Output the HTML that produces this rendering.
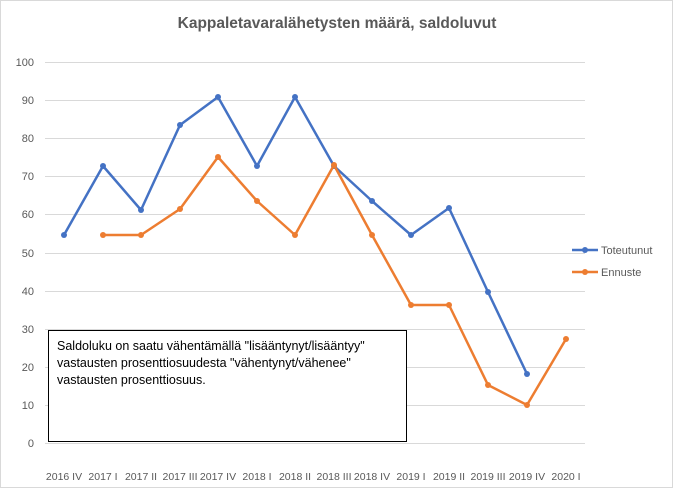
<!DOCTYPE html>
<html><head><meta charset="utf-8"><style>
body{margin:0;background:#fff}
svg{display:block;font-family:"Liberation Sans",sans-serif}
</style></head><body>
<svg width="673" height="488" viewBox="0 0 673 488">
<rect x="0.5" y="0.5" width="672" height="487" fill="#fff" stroke="#d9d9d9"/>
<text x="337" y="28" text-anchor="middle" font-size="15.5" font-weight="bold" fill="#595959">Kappaletavaralähetysten määrä, saldoluvut</text>
<g stroke="#d9d9d9" stroke-width="1">
<line x1="45" x2="585" y1="443.5" y2="443.5"/><line x1="45" x2="585" y1="405.5" y2="405.5"/>
<line x1="45" x2="585" y1="367.5" y2="367.5"/><line x1="45" x2="585" y1="329.5" y2="329.5"/>
<line x1="45" x2="585" y1="291.5" y2="291.5"/><line x1="45" x2="585" y1="253.5" y2="253.5"/>
<line x1="45" x2="585" y1="214.5" y2="214.5"/><line x1="45" x2="585" y1="176.5" y2="176.5"/>
<line x1="45" x2="585" y1="138.5" y2="138.5"/><line x1="45" x2="585" y1="100.5" y2="100.5"/>
<line x1="45" x2="585" y1="62.5" y2="62.5"/>
</g>
<g font-size="11" fill="#595959" text-anchor="end">
<text x="34" y="447">0</text><text x="34" y="409">10</text><text x="34" y="371">20</text>
<text x="34" y="333">30</text><text x="34" y="295">40</text><text x="34" y="257">50</text>
<text x="34" y="218">60</text><text x="34" y="180">70</text><text x="34" y="142">80</text>
<text x="34" y="104">90</text><text x="34" y="66">100</text>
</g>
<g font-size="10.5" fill="#595959" text-anchor="middle">
<text x="64" y="480">2016 IV</text><text x="103" y="480">2017 I</text><text x="141" y="480">2017 II</text>
<text x="180" y="480">2017 III</text><text x="218" y="480">2017 IV</text><text x="257" y="480">2018 I</text>
<text x="295" y="480">2018 II</text><text x="334" y="480">2018 III</text><text x="372" y="480">2018 IV</text>
<text x="411" y="480">2019 I</text><text x="449" y="480">2019 II</text><text x="488" y="480">2019 III</text>
<text x="527" y="480">2019 IV</text><text x="566" y="480">2020 I</text>
</g>
<polyline fill="none" stroke="#4472c4" stroke-width="2.5" stroke-linejoin="round" points="64,235 103,166 141,210 180,125 218,97 257,166 295,97 334,166 372,201 411,235 449,208 488,292 527,374"/>
<g fill="#4472c4">
<circle cx="64" cy="235" r="3"/><circle cx="103" cy="166" r="3"/><circle cx="141" cy="210" r="3"/><circle cx="180" cy="125" r="3"/><circle cx="218" cy="97" r="3"/><circle cx="257" cy="166" r="3"/><circle cx="295" cy="97" r="3"/><circle cx="334" cy="166" r="3"/><circle cx="372" cy="201" r="3"/><circle cx="411" cy="235" r="3"/><circle cx="449" cy="208" r="3"/><circle cx="488" cy="292" r="3"/><circle cx="527" cy="374" r="3"/>
</g>
<polyline fill="none" stroke="#ed7d31" stroke-width="2.5" stroke-linejoin="round" points="103,235 141,235 180,209 218,157 257,201 295,235 334,165 372,235 411,305 449,305 488,385 527,405 566,339"/>
<g fill="#ed7d31">
<circle cx="103" cy="235" r="3"/><circle cx="141" cy="235" r="3"/><circle cx="180" cy="209" r="3"/><circle cx="218" cy="157" r="3"/><circle cx="257" cy="201" r="3"/><circle cx="295" cy="235" r="3"/><circle cx="334" cy="165" r="3"/><circle cx="372" cy="235" r="3"/><circle cx="411" cy="305" r="3"/><circle cx="449" cy="305" r="3"/><circle cx="488" cy="385" r="3"/><circle cx="527" cy="405" r="3"/><circle cx="566" cy="339" r="3"/>
</g>
<line x1="572" x2="598" y1="250" y2="250" stroke="#4472c4" stroke-width="2.5"/><circle cx="585" cy="250" r="3" fill="#4472c4"/>
<text x="601" y="254" font-size="11" fill="#595959">Toteutunut</text>
<line x1="572" x2="598" y1="272" y2="272" stroke="#ed7d31" stroke-width="2.5"/><circle cx="585" cy="272" r="3" fill="#ed7d31"/>
<text x="601" y="276" font-size="11" fill="#595959">Ennuste</text>
<rect x="48.5" y="330.5" width="358" height="111" fill="#fff" stroke="#000" stroke-width="1"/>
<g font-size="12.5" fill="#000">
<text x="57" y="350">Saldoluku on saatu vähentämällä "lisääntynyt/lisääntyy"</text>
<text x="57" y="367">vastausten prosenttiosuudesta "vähentynyt/vähenee"</text>
<text x="57" y="384">vastausten prosenttiosuus.</text>
</g>
</svg>
</body></html>
